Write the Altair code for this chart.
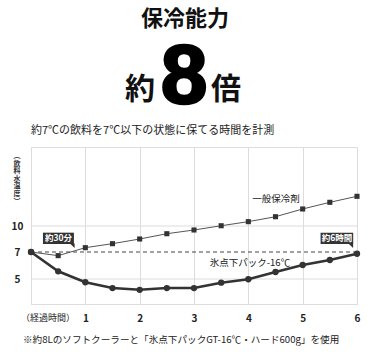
import altair as alt
import pandas as pd

# ---- data ----
hours = [0, 0.5, 1, 1.5, 2, 2.5, 3, 3.5, 4, 4.5, 5, 5.5, 6]
general = [7.0, 6.73, 7.5, 7.96, 8.5, 9.11, 9.54, 10.03, 10.5, 11.07, 11.96, 12.73, 13.42]
icepack = [7.0, 5.57, 4.76, 4.33, 4.2, 4.33, 4.33, 4.73, 4.98, 5.52, 6.04, 6.41, 6.87]
x_ticks = [0, 1, 2, 3, 4, 5, 6]
y_ticks = [5, 7, 10]
grid_y = [5, 10]
threshold = [7]
y_title = ["︵", "飲", "料", "水", "温", "度", "︶"]
x_title = "（経過時間）"

callout_labels = ["約30分", "約6時間"]
callout_x0 = [0.22, 5.33]
callout_x1 = [0.79, 5.93]
callout_y0 = [7.92, 7.92]
callout_y1 = [9.23, 9.23]
callout_tx = [0.505, 5.63]
callout_ty = [8.58, 8.58]
callout_tailx = [0.76, 5.885]
callout_taily = [7.72, 7.72]

series_labels = ["一般保冷剤", "氷点下パック-16℃"]
series_lx = [4.51, 4.03]
series_ly = [13.1, 6.19]

FONT = "Noto Sans CJK JP"

df_g = pd.DataFrame({"h": hours, "v": general})
df_i = pd.DataFrame({"h": hours, "v": icepack})
df_grid = pd.DataFrame({"v": grid_y})
df_thr = pd.DataFrame({"v": threshold})
df_call = pd.DataFrame({
    "label": callout_labels, "x0": callout_x0, "x1": callout_x1,
    "y0": callout_y0, "y1": callout_y1, "tx": callout_tx, "ty": callout_ty,
    "tailx": callout_tailx, "taily": callout_taily,
})
df_sl = pd.DataFrame({"label": series_labels, "x": series_lx, "y": series_ly})
df_xt = pd.DataFrame({"label": [x_title], "x": [0.315]})
one = pd.DataFrame({"a": [0]})

xscale = alt.Scale(domain=[0, 6], nice=False, zero=False)
yscale = alt.Scale(domain=[3.15, 7, 10, 19.1], range=[157, 105, 79, 0], nice=False, zero=False)

X = alt.X("h:Q", scale=xscale, axis=alt.Axis(
    values=x_ticks, title=None, grid=True, gridColor="#dcdcdc", ticks=False, domain=False,
    format="d", labelOverlap=False, labelFlush=False,
    labelExpr="datum.value == 0 ? '' : datum.label",
    labelFontSize=10, labelFontWeight="bold",
    labelBaseline="middle", labelPadding=14, labelColor="#222", labelFont=FONT,
))
Y = alt.Y("v:Q", scale=yscale, axis=alt.Axis(
    values=y_ticks, grid=False, ticks=False, domain=False, title=None,
    labelAlign="center", labelPadding=14, labelFontSize=10, labelFontWeight="bold",
    labelColor="#222", labelFont=FONT, labelOverlap=False, labelFlush=False,
))

grid = alt.Chart(df_grid).mark_rule(color="#dcdcdc", strokeWidth=1).encode(y=alt.Y("v:Q", scale=yscale))
thr = alt.Chart(df_thr).mark_rule(color="#444", strokeWidth=1, strokeDash=[4, 3]).encode(
    y=alt.Y("v:Q", scale=yscale))

g_line = alt.Chart(df_g).mark_line(color="#555", strokeWidth=1).encode(x=X, y=Y)
g_pts = alt.Chart(df_g).mark_point(shape="square", filled=True, size=26, color="#333", opacity=1).encode(
    x=alt.X("h:Q", scale=xscale), y=alt.Y("v:Q", scale=yscale))
i_line = alt.Chart(df_i).mark_line(color="#333", strokeWidth=2.6).encode(
    x=alt.X("h:Q", scale=xscale), y=alt.Y("v:Q", scale=yscale))
i_pts = alt.Chart(df_i).mark_point(shape="circle", filled=True, size=40, color="#333", opacity=1).encode(
    x=alt.X("h:Q", scale=xscale), y=alt.Y("v:Q", scale=yscale))

c_box = alt.Chart(df_call).mark_rect(color="#333").encode(
    x=alt.X("x0:Q", scale=xscale), x2="x1:Q",
    y=alt.Y("y0:Q", scale=yscale), y2="y1:Q")
c_tail = alt.Chart(df_call).mark_point(shape="M -1 -1 L 1 -1 L 1 1 Z", filled=True, size=22,
                                       color="#333", opacity=1).encode(
    x=alt.X("tailx:Q", scale=xscale), y=alt.Y("taily:Q", scale=yscale))
c_text = alt.Chart(df_call).mark_text(color="white", fontSize=8.5, fontWeight="bold", font=FONT,
                                      baseline="middle", align="center").encode(
    x=alt.X("tx:Q", scale=xscale), y=alt.Y("ty:Q", scale=yscale), text="label:N")

s_text = alt.Chart(df_sl).mark_text(color="#222", fontSize=9.5, font=FONT,
                                    baseline="middle", align="center").encode(
    x=alt.X("x:Q", scale=xscale), y=alt.Y("y:Q", scale=yscale), text="label:N")

# x-axis caption at the origin
x_title_mark = alt.Chart(df_xt).mark_text(color="#222", fontSize=9, font=FONT,
                                          baseline="middle", align="center").encode(
    x=alt.X("x:Q", scale=xscale), y=alt.value(171), text="label:N")

# y-axis title (vertical, stacked characters)
y_title_mark = alt.Chart(one).mark_text(text=y_title, fontSize=7, fontWeight="bold", font=FONT,
                                        lineHeight=7.6, color="#333", align="center",
                                        baseline="top").encode(
    x=alt.value(-14), y=alt.value(5))

# headers and footnote
h1 = alt.Chart(one).mark_text(text="保冷能力", fontSize=22, fontWeight="bold", font=FONT,
                              color="#111", align="center", baseline="middle").encode(
    x=alt.value(154), y=alt.value(-128))
h_yaku = alt.Chart(one).mark_text(text="約", fontSize=30, fontWeight="bold", font=FONT,
                                  color="#111", align="center", baseline="middle").encode(
    x=alt.value(109), y=alt.value(-57))
h_8 = alt.Chart(one).mark_text(text="8", fontSize=84, fontWeight="bold", font="Liberation Sans",
                               color="#000", stroke="#000", strokeWidth=2.5,
                               align="center", baseline="alphabetic").encode(
    x=alt.value(153), y=alt.value(-44))
h_bai = alt.Chart(one).mark_text(text="倍", fontSize=30, fontWeight="bold", font=FONT,
                                 color="#111", align="center", baseline="middle").encode(
    x=alt.value(195), y=alt.value(-57))
sub = alt.Chart(one).mark_text(text="約7℃の飲料を7℃以下の状態に保てる時間を計測", fontSize=11,
                               font=FONT, color="#222", align="left", baseline="middle").encode(
    x=alt.value(0), y=alt.value(-16))
foot = alt.Chart(one).mark_text(text="※約8Lのソフトクーラーと「氷点下パックGT-16℃・ハード600g」を使用",
                                fontSize=9.6, font=FONT, color="#222", align="left",
                                baseline="middle").encode(
    x=alt.value(-8), y=alt.value(193))

chart = alt.layer(
    grid, thr, g_line, g_pts, i_line, i_pts, c_box, c_tail, c_text, s_text,
    x_title_mark, y_title_mark, h1, h_yaku, h_8, h_bai, sub, foot,
).properties(
    width=326, height=157,
    autosize=alt.AutoSizeParams(type="none"),
    padding={"left": 31, "top": 147, "right": 28, "bottom": 57},
    background="white",
).configure_view(stroke="#c4c4c4", strokeWidth=1).configure(font=FONT)

chart.save("out.html", embed_options={"renderer": "svg", "actions": False})
